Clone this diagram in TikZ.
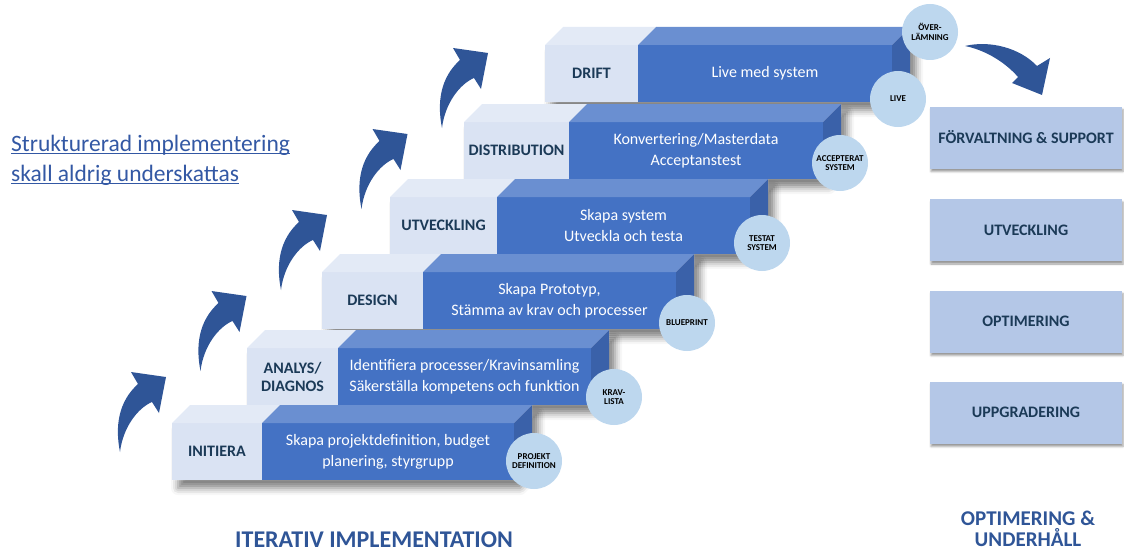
\documentclass[tikz,border=0pt]{standalone}
\usepackage{fontspec}
\setmainfont{Carlito}
\usetikzlibrary{shadows.blur,calc}
\definecolor{lightfront}{HTML}{DAE3F3}
\definecolor{lighttop}{HTML}{E3EAF6}
\definecolor{bluefront}{HTML}{4472C4}
\definecolor{bluetop}{HTML}{6A8FD1}
\definecolor{blueside}{HTML}{3A61A9}
\definecolor{circfill}{HTML}{BDD7EE}
\definecolor{boxfill}{HTML}{B4C7E7}
\definecolor{navy}{HTML}{1B3A57}
\definecolor{arrowblue}{HTML}{2F5597}
\definecolor{titleblue}{HTML}{2F5597}
\definecolor{textblue}{HTML}{3358A4}
\tikzset{
  stepshadow/.style={fill=white, blur shadow={shadow xshift=6pt, shadow yshift=-8pt, shadow blur radius=7pt, shadow opacity=50}},
  lightlabel/.style={font=\fontsize{16}{18}\selectfont\bfseries, text=navy, align=center, inner sep=0},
  bluetext/.style={font=\fontsize{16}{21}\selectfont, text=white, align=center, inner sep=0},
  milestone/.style={circle, fill=circfill, minimum size=56pt, inner sep=0, font=\fontsize{9}{9.5}\selectfont\bfseries, align=center, text=black},
  sidebox/.style={fill=boxfill, minimum width=192pt, minimum height=62pt, inner sep=0, font=\fontsize{16}{18}\selectfont\bfseries, text=navy, blur shadow={shadow xshift=1pt, shadow yshift=-3pt, shadow blur radius=2pt, shadow opacity=40}},
  curvedarrow/.style={fill=arrowblue},
}
\newcommand\stair[7]{%
  \fill[stepshadow] (#1,#4) -- ({#1+18},{#4-18}) -- ({#3+18},{#4-18}) -- ({#3+18},{#4+39}) -- (#3,{#4+57}) -- (#1,{#4+57}) -- cycle;
  \fill[lightfront] (#1,#4) rectangle (#2,{#4+57});
  \fill[lighttop] (#1,#4) -- ({#1+18},{#4-18}) -- ({#2+18},{#4-18}) -- (#2,#4) -- cycle;
  \fill[bluefront] (#2,#4) rectangle (#3,{#4+57});
  \fill[bluetop] (#2,#4) -- ({#2+18},{#4-18}) -- ({#3+18},{#4-18}) -- (#3,#4) -- cycle;
  \fill[blueside] (#3,#4) -- ({#3+18},{#4-18}) -- ({#3+18},{#4+39}) -- (#3,{#4+57}) -- cycle;
  \node[lightlabel] (#5-label) at ({(#1+#2)/2},{#4+28.5}) {#6};
  \node[bluetext] (#5-text) at ({(#2+#3)/2},{#4+28.5}) {#7};
}
\newcommand\uparrowshape[1]{%
  \fill[curvedarrow, shift={#1}] (0,0) .. controls (-5,-25) and (-2,-50) .. (18,-68) -- (11,-80) -- (46,-75) -- (39,-39) -- (32,-50) .. controls (18,-44) and (3,-25) .. (0,0) -- cycle;}
\begin{document}
\begin{tikzpicture}[x=1pt,y=-1pt]
\useasboundingbox (0,0) rectangle (1124,551);
% stairs, top first
\stair{545}{638}{892}{45}{drift}{DRIFT}{Live med system}
\stair{464}{569}{823}{122}{dist}{DISTRIBUTION}{Konvertering/Masterdata\\Acceptanstest}
\stair{390}{497}{750}{197}{utv}{UTVECKLING}{Skapa system\\Utveckla och testa}
\stair{322}{423}{676}{272}{design}{DESIGN}{Skapa Prototyp,\\Stämma av krav och processer}
\stair{247}{338}{591}{348}{analys}{ANALYS/\\DIAGNOS}{Identifiera processer/Kravinsamling\\Säkerställa kompetens och funktion}
\stair{172}{262}{514}{423}{init}{INITIERA}{Skapa projektdefinition, budget\\planering, styrgrupp}
% milestones
\node[milestone] (m1) at (534,461) {PROJEKT\\DEFINITION};
\node[milestone] (m2) at (614,397) {KRAV-\\LISTA};
\node[milestone] (m3) at (687,323) {BLUEPRINT};
\node[milestone] (m4) at (762,243) {TESTAT\\SYSTEM};
\node[milestone] (m5) at (840,163) {ACCEPTERAT\\SYSTEM};
\node[milestone] (m6) at (898,99) {LIVE};
\node[milestone] (m7) at (930,32) {ÖVER-\\LÄMNING};
% curved arrows
\uparrowshape{(120,452)}
\uparrowshape{(200.5,371)}
\uparrowshape{(281,290)}
\uparrowshape{(361.5,209)}
\uparrowshape{(442,128)}
\fill[curvedarrow] (965,46) .. controls (990,40) and (1020,48) .. (1037,66) -- (1050,58) -- (1042,95) -- (1012,83) -- (1018,77) .. controls (1005,62) and (985,50) .. (965,46) -- cycle;
% right boxes
\node[sidebox] (b1) at (1026,137.5) {FÖRVALTNING \& SUPPORT};
\node[sidebox] (b2) at (1026,230) {UTVECKLING};
\node[sidebox] (b3) at (1026,321.5) {OPTIMERING};
\node[sidebox] (b4) at (1026,412.5) {UPPGRADERING};
% titles
\node[anchor=base, font=\fontsize{24}{26}\selectfont\bfseries, text=titleblue, inner sep=0] (t1) at (374,547) {ITERATIV IMPLEMENTATION};
\node[anchor=base, font=\fontsize{21}{21}\selectfont\bfseries, text=titleblue, align=center, inner sep=0] (t2) at (1028,546) {OPTIMERING \&\\UNDERHÅLL};
% left text
\node[anchor=base west, inner sep=0, font=\fontsize{23.5}{29}\selectfont, text=textblue] (s1) at (11,151) {Strukturerad implementering};
\node[anchor=base west, inner sep=0, font=\fontsize{23.5}{29}\selectfont, text=textblue] (s2) at (11,181) {skall aldrig underskattas};
\draw[textblue, line width=1pt] ($(s1.base west)+(0,2.5)$) -- ($(s1.base east)+(0,2.5)$);
\draw[textblue, line width=1pt] ($(s2.base west)+(0,2.5)$) -- ($(s2.base east)+(0,2.5)$);
\end{tikzpicture}
\end{document}
